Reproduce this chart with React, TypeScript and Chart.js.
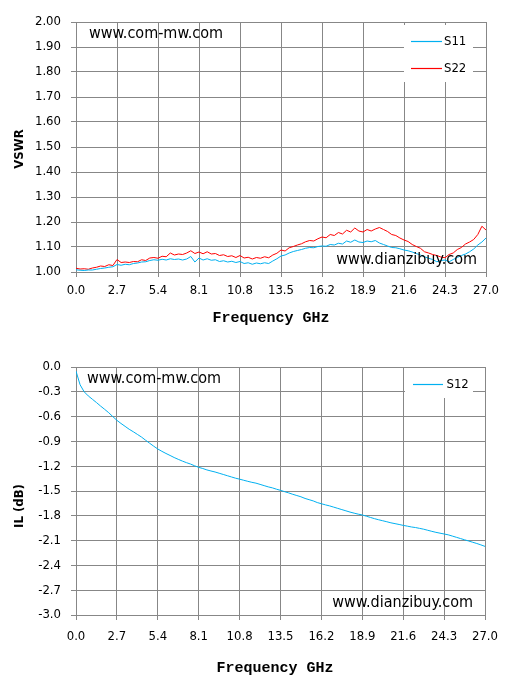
import React, { useEffect, useRef } from "react";
import { Chart, registerables } from "chart.js";

Chart.register(...registerables);

// ---------- data ----------
const FREQ_GHZ = [
  0.0, 0.27, 0.54, 0.81, 1.08, 1.35, 1.62, 1.89, 2.16, 2.43,
  2.7, 2.97, 3.24, 3.51, 3.78, 4.05, 4.32, 4.59, 4.86, 5.13,
  5.4, 5.67, 5.94, 6.21, 6.48, 6.75, 7.02, 7.29, 7.56, 7.83,
  8.1, 8.37, 8.64, 8.91, 9.18, 9.45, 9.72, 9.99, 10.26, 10.53,
  10.8, 11.07, 11.34, 11.61, 11.88, 12.15, 12.42, 12.69, 12.96, 13.23,
  13.5, 13.77, 14.04, 14.31, 14.58, 14.85, 15.12, 15.39, 15.66, 15.93,
  16.2, 16.47, 16.74, 17.01, 17.28, 17.55, 17.82, 18.09, 18.36, 18.63,
  18.9, 19.17, 19.44, 19.71, 19.98, 20.25, 20.52, 20.79, 21.06, 21.33,
  21.6, 21.87, 22.14, 22.41, 22.68, 22.95, 23.22, 23.49, 23.76, 24.03,
  24.3, 24.57, 24.84, 25.11, 25.38, 25.65, 25.92, 26.19, 26.46, 26.73,
  27.0,
];

const S11_VSWR = [
  1.009, 1.007, 1.006, 1.008, 1.008, 1.011, 1.014, 1.016, 1.019, 1.021,
  1.030, 1.027, 1.031, 1.029, 1.034, 1.036, 1.040, 1.041, 1.046, 1.049,
  1.047, 1.051, 1.048, 1.053, 1.050, 1.052, 1.048, 1.052, 1.062, 1.040,
  1.056, 1.048, 1.053, 1.047, 1.049, 1.042, 1.045, 1.040, 1.043, 1.038,
  1.042, 1.034, 1.037, 1.031, 1.036, 1.033, 1.037, 1.034, 1.044, 1.053,
  1.064, 1.068, 1.076, 1.082, 1.086, 1.090, 1.095, 1.098, 1.097, 1.102,
  1.104, 1.103, 1.110, 1.108, 1.115, 1.112, 1.124, 1.119, 1.128, 1.120,
  1.118, 1.124, 1.121, 1.126, 1.116, 1.110, 1.104, 1.098, 1.097, 1.093,
  1.088, 1.085, 1.080, 1.074, 1.068, 1.061, 1.055, 1.050, 1.041, 1.046,
  1.048, 1.041, 1.050, 1.058, 1.066, 1.072, 1.081, 1.092, 1.108, 1.120,
  1.136,
];

const S22_VSWR = [
  1.015, 1.012, 1.013, 1.011, 1.016, 1.019, 1.024, 1.022, 1.029, 1.026,
  1.050, 1.038, 1.040, 1.038, 1.042, 1.041, 1.049, 1.046, 1.056, 1.058,
  1.055, 1.063, 1.061, 1.076, 1.068, 1.072, 1.070, 1.076, 1.085, 1.074,
  1.080, 1.073, 1.081, 1.072, 1.074, 1.066, 1.069, 1.062, 1.065, 1.058,
  1.066, 1.056, 1.059, 1.052, 1.058, 1.055, 1.061, 1.057, 1.068, 1.075,
  1.088, 1.084, 1.097, 1.102, 1.108, 1.113, 1.121, 1.126, 1.124, 1.133,
  1.140, 1.137, 1.150, 1.146, 1.158, 1.152, 1.167, 1.160, 1.176, 1.164,
  1.160, 1.170, 1.164, 1.172, 1.178, 1.170, 1.162, 1.150, 1.146, 1.136,
  1.128, 1.122, 1.110, 1.102, 1.095, 1.081, 1.076, 1.070, 1.066, 1.060,
  1.057, 1.070, 1.076, 1.090, 1.098, 1.112, 1.120, 1.130, 1.150, 1.183,
  1.168,
];

const S12_IL_DB = [
  -0.05, -0.215, -0.3, -0.35, -0.39, -0.43, -0.472, -0.512, -0.553, -0.6,
  -0.645, -0.683, -0.718, -0.753, -0.783, -0.815, -0.847, -0.885, -0.922, -0.958,
  -0.992, -1.02, -1.046, -1.07, -1.095, -1.117, -1.138, -1.157, -1.174, -1.195,
  -1.214, -1.228, -1.245, -1.258, -1.27, -1.285, -1.3, -1.315, -1.33, -1.345,
  -1.357, -1.37, -1.383, -1.395, -1.405, -1.42, -1.435, -1.45, -1.462, -1.478,
  -1.492, -1.508, -1.523, -1.54, -1.555, -1.57, -1.59, -1.605, -1.62, -1.64,
  -1.654, -1.668, -1.68, -1.695, -1.71, -1.725, -1.74, -1.755, -1.768, -1.78,
  -1.79, -1.805, -1.82, -1.835, -1.848, -1.86, -1.872, -1.885, -1.895, -1.905,
  -1.916, -1.925, -1.935, -1.942, -1.952, -1.962, -1.975, -1.988, -2.0, -2.01,
  -2.02, -2.03, -2.045, -2.06, -2.075, -2.09, -2.105, -2.12, -2.135, -2.152,
  -2.17,
];

const SERIES_TOP = ["S11", "S22"];
const SERIES_BOTTOM = ["S12"];
const X_MIN = 0;
const X_MAX = 27;
const X_STEP = 2.7;
const VSWR_MIN = 1.0;
const VSWR_MAX = 2.0;
const VSWR_STEP = 0.1;
const IL_MIN = -3.0;
const IL_MAX = 0.0;
const IL_STEP = 0.3;
const X_TITLE = "Frequency GHz";
const Y_TITLE_TOP = "VSWR";
const Y_TITLE_BOTTOM = "IL (dB)";
const WATERMARK_A = "www.com-mw.com";
const WATERMARK_B = "www.dianzibuy.com";

// ---------- styles ----------
const CYAN = "#00b0f0";
const RED = "#ff0000";
const GRID = "#878787";
const FONT_SANS = "'DejaVu Sans Condensed', 'DejaVu Sans', sans-serif";
const FONT_MONO = "'Liberation Mono', 'DejaVu Sans Mono', monospace";

const decorPlugin = {
  id: "decor",
  afterDraw(chart: any, _args: any, opts: any) {
    const ctx = chart.ctx as CanvasRenderingContext2D;
    const a = chart.chartArea;
    ctx.save();

    // legend box inside plot
    const lg = opts.legend;
    ctx.fillStyle = "#ffffff";
    ctx.fillRect(a.right - lg.boxRight, a.top + lg.boxTop, lg.boxW, lg.boxH);
    ctx.font = `13px ${FONT_SANS}`;
    ctx.textBaseline = "middle";
    ctx.textAlign = "left";
    chart.data.datasets.forEach((ds: any, i: number) => {
      const y = Math.round(a.top + lg.firstY + i * lg.rowGap) + 0.5;
      ctx.strokeStyle = ds.borderColor;
      ctx.lineWidth = 1.2;
      ctx.beginPath();
      ctx.moveTo(a.right - lg.lineStart, y);
      ctx.lineTo(a.right - lg.lineEnd, y);
      ctx.stroke();
      ctx.fillStyle = "#000";
      ctx.fillText(ds.label, a.right - lg.textX, y);
    });

    // watermarks
    ctx.font = `16px ${FONT_SANS}`;
    ctx.fillStyle = "#000";
    ctx.textBaseline = "middle";
    ctx.textAlign = "left";
    ctx.fillText(WATERMARK_A, a.left + opts.wmA.dx, a.top + opts.wmA.dy);
    ctx.textAlign = "right";
    ctx.fillText(WATERMARK_B, a.right - opts.wmB.dx, a.bottom - opts.wmB.dy);

    // x-axis title
    ctx.font = `bold 15px ${FONT_MONO}`;
    ctx.textAlign = "center";
    ctx.textBaseline = "middle";
    ctx.fillText(X_TITLE, opts.xTitle.x, opts.xTitle.y);

    // y-axis title
    ctx.translate(opts.yTitle.x, opts.yTitle.y);
    ctx.rotate(-Math.PI / 2);
    ctx.font = `bold 13px ${FONT_SANS}`;
    ctx.fillText(opts.yTitle.text, 0, 0);

    ctx.restore();
  },
};

function makeOptions(p: {
  yMin: number;
  yMax: number;
  yStep: number;
  yDigits: number;
  padTop: number;
  padRight: number;
  xAxisHeight: number;
  xTickPad: number;
  decor: any;
}) {
  return {
    animation: false,
    responsive: false,
    events: [],
    layout: { padding: { left: 0, right: p.padRight, top: p.padTop, bottom: 0 } },
    plugins: {
      legend: { display: false },
      tooltip: { enabled: false },
      decor: p.decor,
    },
    elements: { point: { radius: 0 }, line: { borderWidth: 1, tension: 0 } },
    scales: {
      x: {
        type: "linear",
        min: X_MIN,
        max: X_MAX,
        ticks: {
          stepSize: X_STEP,
          maxRotation: 0,
          autoSkip: false,
          padding: p.xTickPad,
          color: "#000",
          font: { family: FONT_SANS, size: 13 },
          callback: (v: number) => Number(v).toFixed(1),
        },
        grid: { color: GRID, lineWidth: 1, tickLength: 5, tickColor: GRID },
        border: { color: GRID, width: 1 },
        afterFit: (s: any) => {
          s.height = p.xAxisHeight;
        },
      },
      y: {
        min: p.yMin,
        max: p.yMax,
        ticks: {
          stepSize: p.yStep,
          padding: 10,
          color: "#000",
          font: { family: FONT_SANS, size: 13 },
          callback: (v: number) => {
            const n = Math.abs(Number(v)) < 1e-9 ? 0 : Number(v);
            return n.toFixed(p.yDigits);
          },
        },
        grid: { color: GRID, lineWidth: 1, tickLength: 5, tickColor: GRID },
        border: { color: GRID, width: 1 },
        afterFit: (s: any) => {
          s.width = 76;
        },
      },
    },
  };
}

function VswrChart() {
  const ref = useRef<HTMLCanvasElement>(null);
  useEffect(() => {
    const chart = new Chart(ref.current as HTMLCanvasElement, {
      type: "line",
      data: {
        datasets: [
          {
            label: SERIES_TOP[0],
            data: FREQ_GHZ.map((f, i) => ({ x: f, y: S11_VSWR[i] })),
            borderColor: CYAN,
            backgroundColor: CYAN,
          },
          {
            label: SERIES_TOP[1],
            data: FREQ_GHZ.map((f, i) => ({ x: f, y: S22_VSWR[i] })),
            borderColor: RED,
            backgroundColor: RED,
          },
        ],
      },
      options: makeOptions({
        yMin: VSWR_MIN,
        yMax: VSWR_MAX,
        yStep: VSWR_STEP,
        yDigits: 2,
        padTop: 22,
        padRight: 22,
        xAxisHeight: 68,
        xTickPad: 6,
        decor: {
          legend: {
            boxRight: 82, boxTop: 3, boxW: 69, boxH: 57,
            firstY: 18.5, rowGap: 27.5,
            lineStart: 75, lineEnd: 44, textX: 42,
          },
          wmA: { dx: 13, dy: 12 },
          wmB: { dx: 9, dy: 12 },
          xTitle: { x: 271, y: 318 },
          yTitle: { x: 20, y: 149, text: Y_TITLE_TOP },
        },
      }) as any,
      plugins: [decorPlugin as any],
    });
    return () => chart.destroy();
  }, []);
  return <canvas ref={ref} width={508} height={340} style={{ display: "block" }} />;
}

function IlChart() {
  const ref = useRef<HTMLCanvasElement>(null);
  useEffect(() => {
    const chart = new Chart(ref.current as HTMLCanvasElement, {
      type: "line",
      data: {
        datasets: [
          {
            label: SERIES_BOTTOM[0],
            data: FREQ_GHZ.map((f, i) => ({ x: f, y: S12_IL_DB[i] })),
            borderColor: CYAN,
            backgroundColor: CYAN,
          },
        ],
      },
      options: makeOptions({
        yMin: IL_MIN,
        yMax: IL_MAX,
        yStep: IL_STEP,
        yDigits: 1,
        padTop: 27,
        padRight: 23,
        xAxisHeight: 70,
        xTickPad: 9,
        decor: {
          legend: {
            boxRight: 80, boxTop: 1, boxW: 68, boxH: 30,
            firstY: 17, rowGap: 27,
            lineStart: 72, lineEnd: 42, textX: 38.5,
          },
          wmA: { dx: 11, dy: 12 },
          wmB: { dx: 12, dy: 12 },
          xTitle: { x: 275, y: 328 },
          yTitle: { x: 20, y: 166, text: Y_TITLE_BOTTOM },
        },
      }) as any,
      plugins: [decorPlugin as any],
    });
    return () => chart.destroy();
  }, []);
  return <canvas ref={ref} width={508} height={345} style={{ display: "block" }} />;
}

export default function App() {
  return (
    <div
      style={{
        position: "absolute",
        left: 0,
        top: 0,
        width: 508,
        height: 685,
        background: "#ffffff",
      }}
    >
      <VswrChart />
      <IlChart />
    </div>
  );
}
